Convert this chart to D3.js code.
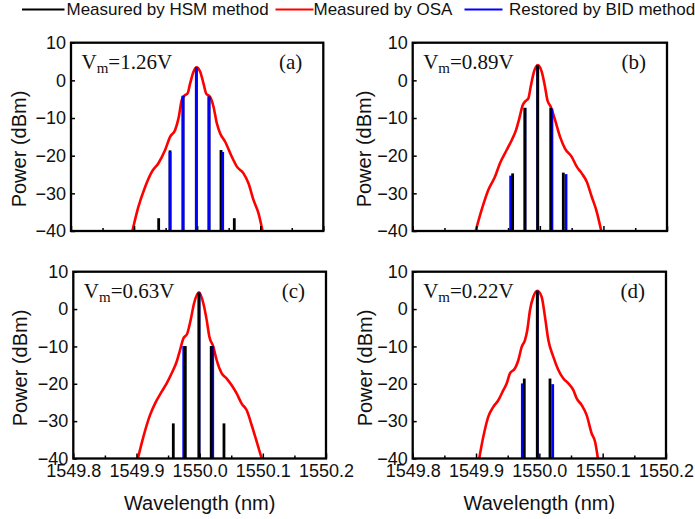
<!DOCTYPE html>
<html>
<head>
<meta charset="utf-8">
<script src="https://cdn.jsdelivr.net/npm/d3@7"></script>
<style>
  html, body { margin: 0; padding: 0; background: #fff; }
  svg { display: block; }
</style>
</head>
<body>
<svg id="chart" width="695" height="519"></svg>
<script>
// ---------------- DATA ----------------
const seriesNames = ["Measured by HSM method", "Measured by OSA", "Restored by BID method"];
const panelTags = ["(a)", "(b)", "(c)", "(d)"];
const vmLabels = ["1.26", "0.89", "0.63", "0.22"];
const xTickValues = [1549.8, 1549.9, 1550.0, 1550.1, 1550.2];
const xMinorTicks = [1549.85, 1549.95, 1550.05, 1550.15];
const yTickValues = [-40, -30, -20, -10, 0, 10];
const xDomain = [1549.8, 1550.2];
const yDomain = [-40, 10];

// OSA spectra (red)
const osaWlA = [1549.8973, 1549.9068, 1549.9175, 1549.9281, 1549.9386, 1549.9492, 1549.9571, 1549.9651, 1549.9704, 1549.9757, 1549.9810, 1549.9847, 1549.9889, 1549.9942, 1549.9990, 1550.0048, 1550.0100, 1550.0143, 1550.0206, 1550.0259, 1550.0312, 1550.0365, 1550.0444, 1550.0550, 1550.0630, 1550.0735, 1550.0815, 1550.0894, 1550.0973, 1550.1037];
const osaDbA = [-40, -33.6, -28.3, -24.3, -22.0, -18.5, -15.0, -13.2, -10.1, -5.2, -3.9, -3.5, -0.8, 2.3, 3.45, 2.3, -0.8, -3.5, -4.4, -7.0, -11.4, -14.1, -16.3, -20.3, -22.9, -24.7, -27.4, -31.8, -35.3, -40];

const osaWlB = [1549.8990, 1549.9084, 1549.9189, 1549.9294, 1549.9373, 1549.9478, 1549.9557, 1549.9625, 1549.9677, 1549.9730, 1549.9782, 1549.9819, 1549.9856, 1549.9908, 1549.9966, 1550.0029, 1550.0081, 1550.0118, 1550.0171, 1550.0239, 1550.0318, 1550.0396, 1550.0501, 1550.0580, 1550.0659, 1550.0738, 1550.0816, 1550.0895, 1550.0966];
const osaDbB = [-40, -34.4, -29.1, -25.6, -22.0, -18.5, -15.9, -13.2, -10.1, -6.6, -5.4, -4.8, -1.7, 2.3, 4.06, 2.3, -1.7, -5.2, -7.0, -10.5, -15.0, -18.1, -20.3, -22.9, -24.7, -26.9, -30.9, -34.9, -40];

const osaWlC = [1549.9022, 1549.9109, 1549.9214, 1549.9293, 1549.9399, 1549.9478, 1549.9557, 1549.9636, 1549.9689, 1549.9742, 1549.9805, 1549.9858, 1549.9911, 1549.9990, 1550.0059, 1550.0111, 1550.0154, 1550.0217, 1550.0270, 1550.0349, 1550.0428, 1550.0507, 1550.0586, 1550.0665, 1550.0745, 1550.0824, 1550.0903, 1550.0982];
const osaDbC = [-40, -34.2, -28.4, -25.3, -22.1, -19.9, -17.2, -14.1, -11.0, -7.9, -6.5, -2.9, 1.5, 4.5, 1.5, -2.9, -7.4, -10.1, -13.7, -17.2, -18.6, -20.4, -22.6, -25.3, -27.1, -31.1, -35.5, -40];

const osaWlD = [1549.9050, 1549.9115, 1549.9194, 1549.9273, 1549.9352, 1549.9431, 1549.9484, 1549.9536, 1549.9615, 1549.9668, 1549.9721, 1549.9773, 1549.9810, 1549.9852, 1549.9905, 1549.9968, 1550.0036, 1550.0089, 1550.0142, 1550.0221, 1550.0300, 1550.0379, 1550.0458, 1550.0537, 1550.0589, 1550.0668, 1550.0747, 1550.0826, 1550.0880, 1550.0925];
const osaDbD = [-40, -34.2, -28.8, -26.2, -24.4, -21.7, -19.9, -17.2, -15.9, -13.7, -10.1, -8.3, -5.6, -0.3, 3.3, 4.9, 3.3, -2.1, -8.3, -12.8, -16.3, -18.6, -19.9, -21.7, -23.9, -25.7, -28.4, -33.3, -35.5, -40];

// HSM lines (black)
const hsmWlA = [1549.9390, 1549.9570, 1549.9776, 1549.9987, 1550.0188, 1550.0378, 1550.0589];
const hsmDbA = [-36.6, -18.6, -4.1, 3.4, -4.3, -18.5, -36.6];
const hsmWlB = [1549.9572, 1549.9766, 1549.9966, 1550.0171, 1550.0369];
const hsmDbB = [-24.7, -7.3, 4.06, -7.3, -24.5];
const hsmWlC = [1549.9583, 1549.9773, 1549.9990, 1550.0183, 1550.0385];
const hsmDbC = [-30.6, -9.9, 4.4, -9.9, -30.6];
const hsmWlD = [1549.9762, 1549.9968, 1550.0168];
const hsmDbD = [-18.6, 4.9, -18.6];

// BID lines (blue)
const bidWlA = [1549.9570, 1549.9776, 1549.9987, 1550.0188, 1550.0405];
const bidDbA = [-19.0, -4.1, 3.45, -4.3, -19.0];
const bidWlB = [1549.9541, 1549.9766, 1549.9966, 1550.0190, 1550.0412];
const bidDbB = [-25.3, -7.3, 4.0, -7.5, -24.9];
const bidWlC = [1549.9748, 1549.9990, 1550.0207];
const bidDbC = [-9.9, 4.4, -9.9];
const bidWlD = [1549.9731, 1549.9968, 1550.0211];
const bidDbD = [-19.9, 4.9, -20.1];

// ---------------- LAYOUT / STYLE ----------------
const COLORS = { hsm: "#000000", osa: "#ff0000", bid: "#0000ff" };
const SANS = "'Liberation Sans', Arial, Helvetica, sans-serif";
const SERIF = "'Liberation Serif', 'Times New Roman', serif";

const panels = [
  { frame: { x0: 71, x1: 323.3, y0: 42.7, y1: 231 }, osa: [osaWlA, osaDbA], hsm: [hsmWlA, hsmDbA], bid: [bidWlA, bidDbA], blueOnTop: true,  showX: false, ytx: 26,  yty: 149 },
  { frame: { x0: 412.7, x1: 667, y0: 42.7, y1: 231 }, osa: [osaWlB, osaDbB], hsm: [hsmWlB, hsmDbB], bid: [bidWlB, bidDbB], blueOnTop: false, showX: false, ytx: 371, yty: 149 },
  { frame: { x0: 73.3, x1: 326, y0: 271.7, y1: 458.5 }, osa: [osaWlC, osaDbC], hsm: [hsmWlC, hsmDbC], bid: [bidWlC, bidDbC], blueOnTop: false, showX: true, ytx: 27,  yty: 368 },
  { frame: { x0: 412.7, x1: 666, y0: 271.7, y1: 458.5 }, osa: [osaWlD, osaDbD], hsm: [hsmWlD, hsmDbD], bid: [bidWlD, bidDbD], blueOnTop: false, showX: true, ytx: 372, yty: 368 }
];

const svg = d3.select("#chart");
svg.append("rect").attr("width", 695).attr("height", 519).attr("fill", "#fff");

panels.forEach((p, i) => {
  const f = p.frame;
  const x = d3.scaleLinear().domain(xDomain).range([f.x0, f.x1]);
  const y = d3.scaleLinear().domain(yDomain).range([f.y1, f.y0]);
  const g = svg.append("g");

  // OSA curve
  const osaPts = p.osa[0].map((w, k) => [w, p.osa[1][k]]);
  g.append("path")
    .datum(osaPts)
    .attr("d", d3.line().x(d => x(d[0])).y(d => y(d[1])).curve(d3.curveMonotoneX))
    .attr("fill", "none")
    .attr("stroke", COLORS.osa)
    .attr("stroke-width", 2.6)
    .attr("stroke-linejoin", "round");

  const drawStems = (arr, color) => {
    const pts = arr[0].map((w, k) => [w, arr[1][k]]);
    g.append("g").selectAll("line").data(pts).join("line")
      .attr("x1", d => x(d[0])).attr("x2", d => x(d[0]))
      .attr("y1", y(-40)).attr("y2", d => y(d[1]))
      .attr("stroke", color).attr("stroke-width", 2.8);
  };
  if (p.blueOnTop) { drawStems(p.hsm, COLORS.hsm); drawStems(p.bid, COLORS.bid); }
  else { drawStems(p.bid, COLORS.bid); drawStems(p.hsm, COLORS.hsm); }

  // Axes
  const yAxis = d3.axisLeft(y).tickValues(yTickValues).tickFormat(d3.format("d"))
    .tickSizeInner(-4).tickSizeOuter(0).tickPadding(5);
  const ya = svg.append("g").attr("transform", `translate(${f.x0},0)`).call(yAxis);
  ya.select(".domain").remove();
  ya.selectAll("line").attr("stroke", "#000").attr("stroke-width", 1.5);
  ya.selectAll("text").attr("font-family", SANS).attr("font-size", 18).attr("fill", "#111");

  const xAxis = d3.axisBottom(x).tickValues(xTickValues).tickFormat(p.showX ? d3.format(".1f") : () => "")
    .tickSizeInner(-5).tickSizeOuter(0).tickPadding(6);
  const xa = svg.append("g").attr("transform", `translate(0,${f.y1})`).call(xAxis);
  xa.select(".domain").remove();
  xa.selectAll("line").attr("stroke", "#000").attr("stroke-width", 1.5);
  xa.selectAll("text").attr("font-family", SANS).attr("font-size", 18).attr("fill", "#111");

  const xMinor = d3.axisBottom(x).tickValues(xMinorTicks).tickFormat(() => "")
    .tickSizeInner(-3).tickSizeOuter(0);
  const xm = svg.append("g").attr("transform", `translate(0,${f.y1})`).call(xMinor);
  xm.select(".domain").remove();
  xm.selectAll("line").attr("stroke", "#000").attr("stroke-width", 1.5);

  // Frame
  svg.append("rect")
    .attr("x", f.x0).attr("y", f.y0)
    .attr("width", f.x1 - f.x0).attr("height", f.y1 - f.y0)
    .attr("fill", "none").attr("stroke", "#000").attr("stroke-width", 2.3);

  // Y title
  svg.append("text")
    .attr("transform", `translate(${p.ytx},${p.yty}) rotate(-90)`)
    .attr("text-anchor", "middle")
    .attr("font-family", SANS).attr("font-size", 20).attr("fill", "#111")
    .text("Power (dBm)");

  // X title
  if (p.showX) {
    svg.append("text")
      .attr("x", (f.x0 + f.x1) / 2).attr("y", 510)
      .attr("text-anchor", "middle")
      .attr("font-family", SANS).attr("font-size", 20).attr("fill", "#111")
      .text("Wavelength (nm)");
  }

  // Vm annotation
  const base = f.y0 + 26.5;
  const t = svg.append("text")
    .attr("x", f.x0 + 10.5).attr("y", base)
    .attr("font-family", SERIF).attr("font-size", 21).attr("fill", "#111");
  t.append("tspan").text("V");
  t.append("tspan").attr("font-size", 15).attr("dy", 4).text("m");
  t.append("tspan").attr("dy", -4).text("=" + vmLabels[i] + "V");

  svg.append("text")
    .attr("x", f.x1 - 21).attr("y", base)
    .attr("text-anchor", "end")
    .attr("font-family", SERIF).attr("font-size", 21).attr("fill", "#111")
    .text(panelTags[i]);
});

// Legend
const legendItems = [
  { name: seriesNames[0], color: COLORS.hsm, lx0: 22, lx1: 64.5, tx: 66.5 },
  { name: seriesNames[1], color: COLORS.osa, lx0: 275.5, lx1: 313.5, tx: 313.5 },
  { name: seriesNames[2], color: COLORS.bid, lx0: 464.5, lx1: 502.5, tx: 509 }
];
const lg = svg.append("g");
legendItems.forEach(it => {
  lg.append("line").attr("x1", it.lx0).attr("x2", it.lx1).attr("y1", 9.5).attr("y2", 9.5)
    .attr("stroke", it.color).attr("stroke-width", 2);
  lg.append("text").attr("x", it.tx).attr("y", 15)
    .attr("font-family", SANS).attr("font-size", 17).attr("fill", "#111")
    .text(it.name);
});
</script>
</body>
</html>
